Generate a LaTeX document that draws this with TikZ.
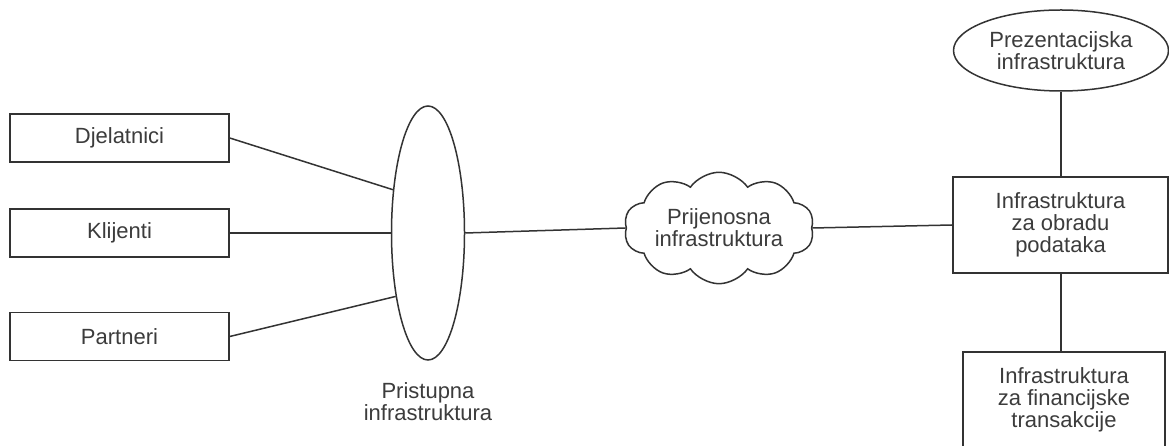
\documentclass[tikz,border=0pt]{standalone}
\usepackage{fontspec}
\setmainfont{Liberation Sans}
\usetikzlibrary{shapes.geometric,shapes.symbols}
\definecolor{ln}{HTML}{333333}
\definecolor{tx}{HTML}{3C3C3C}
\begin{document}
\begin{tikzpicture}[x=1pt,y=1pt,
  every node/.style={font=\fontsize{22}{22}\selectfont, text=tx, align=center, inner sep=0pt},
  rbox/.style={draw=ln, line width=1.5pt, rectangle},
  oval/.style={draw=ln, line width=1.5pt, ellipse},
  conn/.style={draw=ln, line width=1.5pt}]
\useasboundingbox (0,0) rectangle (1169,446);
\clip (0,0) rectangle (1169,446);
\fill[white] (0,0) rectangle (1169,446);
% left boxes
\node[rbox, minimum width=219pt, minimum height=48pt] (d) at (119.5,308) {Djelatnici};
\node[rbox, minimum width=219pt, minimum height=48pt] (k) at (119.5,213) {Klijenti};
\node[rbox, minimum width=219pt, minimum height=48pt] (p) at (119.5,109.5) {Partneri};
% access ellipse
\node[oval, minimum width=73pt, minimum height=254pt] (acc) at (428,213) {};
\node (accl) at (428,44) {Pristupna\\infrastruktura};
% cloud
\node[cloud, draw=ln, line width=1.5pt, cloud puffs=10, cloud puff arc=110, aspect=2.1,
      minimum width=190pt, minimum height=100pt] (cl) at (719,218) {Prijenosna\\infrastruktura};
% right column
\node[oval, minimum width=215pt, minimum height=81pt] (pres) at (1061,395.5) {Prezentacijska\\infrastruktura};
\node[rbox, minimum width=215pt, minimum height=96pt] (proc) at (1060.5,221) {Infrastruktura\\za obradu\\podataka};
\node[rbox, minimum width=202pt, minimum height=96pt] (fin) at (1064,46) {Infrastruktura\\za financijske\\transakcije};
% connectors
\draw[conn] (d.east) -- (acc.129.3);
\draw[conn] (k.east) -- (acc.west);
\draw[conn] (p.east) -- (acc.243.3);
\draw[conn] (acc.east) -- (cl.west);
\draw[conn] (cl.east) -- (proc.west);
\draw[conn] (pres.south) -- (pres.south |- proc.north);
\draw[conn] (proc.south -| pres.south) -- (pres.south |- fin.north);
\end{tikzpicture}
\end{document}
